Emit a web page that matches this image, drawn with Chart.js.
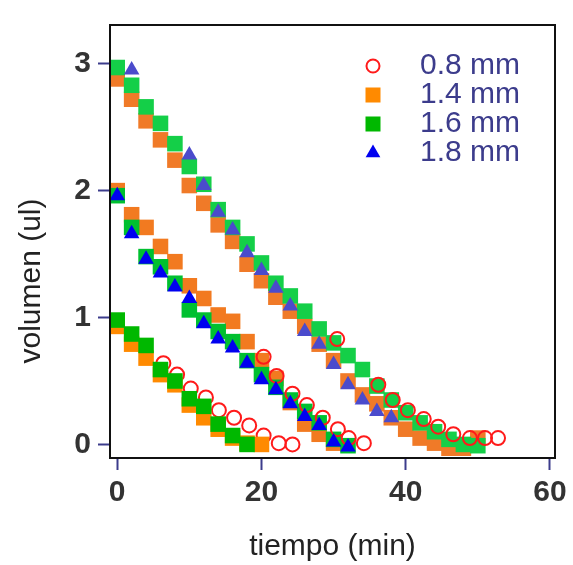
<!DOCTYPE html>
<html>
<head>
<meta charset="utf-8">
<script src="https://cdn.jsdelivr.net/npm/chart.js@4/dist/chart.umd.min.js"></script>
<style>
  html, body { margin: 0; padding: 0; background: #fff; }
</style>
</head>
<body>
<canvas id="chart" width="573" height="565"></canvas>
<script>
// tiempo (min) / volumen (ul) for each needle size, three starting volumes
const xTicks = [0, 20, 40, 60];
const yTicks = [0, 1, 2, 3];

// 3 ul runs
const tUp = [0, 2, 4, 6, 8, 10, 12, 14, 16, 18, 20, 22, 24, 26, 28, 30, 32, 34, 36, 38, 40, 42, 44, 46, 48, 50];
const v14Up = [2.88, 2.72, 2.55, 2.40, 2.24, 2.04, 1.90, 1.73, 1.60, 1.42, 1.29, 1.16, 1.05, 0.93, 0.79, 0.66, 0.50, 0.39, 0.32, 0.21, 0.12, 0.05, 0.01, -0.03, -0.03, 0.05];
const v16Up = [2.97, 2.83, 2.66, 2.53, 2.37, 2.19, 2.05, 1.85, 1.71, 1.58, 1.43, 1.27, 1.17, 1.05, 0.91, 0.80, 0.70, 0.59, 0.46, 0.35, 0.25, 0.17, 0.10, 0.04, 0.00, -0.01];
const tTriUp = [2, 10, 12, 14, 16, 18, 20, 22, 24, 26, 28, 30, 32, 34, 36, 38];
const v18Up = [2.95, 2.28, 2.04, 1.83, 1.69, 1.51, 1.37, 1.23, 1.09, 0.89, 0.79, 0.63, 0.47, 0.35, 0.26, 0.21];
const tCircUp = [30.5, 36.2, 38.2, 40.3, 42.5, 44.5, 46.6, 48.9, 51.0, 52.8];
const v08Up = [0.83, 0.47, 0.35, 0.27, 0.20, 0.14, 0.08, 0.05, 0.05, 0.05];

// 2 ul runs
const tMid = [0, 2, 4, 6, 8, 10, 12, 14, 16, 18, 20, 22, 24, 26, 28, 30, 32];
const v14Mid = [2.00, 1.81, 1.71, 1.56, 1.44, 1.25, 1.15, 1.02, 0.97, 0.81, 0.66, 0.52, 0.33, 0.16, 0.08, 0.01];
const v16Mid = [1.96, 1.71, 1.48, 1.40, 1.27, 1.06, 0.98, 0.89, 0.81, 0.66, 0.55, 0.45, 0.35, 0.26, 0.17, 0.04, -0.01];
const v18Mid = [1.96, 1.66, 1.46, 1.35, 1.24, 1.15, 0.95, 0.83, 0.76, 0.64, 0.51, 0.43, 0.32, 0.22, 0.15, 0.02, -0.02];
const tCircMid = [20.3, 22.1, 24.3, 26.3, 28.5, 30.6, 32.1, 34.2];
const v08Mid = [0.69, 0.54, 0.40, 0.31, 0.21, 0.12, 0.05, 0.01];

// 1 ul runs
const tLow = [0, 2, 4, 6, 8, 10, 12, 14, 16, 18, 20];
const v14Low = [0.93, 0.79, 0.68, 0.55, 0.47, 0.31, 0.21, 0.12, 0.05, 0.01, 0.00];
const v16Low = [0.98, 0.87, 0.78, 0.59, 0.50, 0.36, 0.30, 0.16, 0.07, 0.00];
const tCircLow = [6.4, 8.3, 10.2, 12.3, 14.1, 16.2, 18.3, 20.3, 22.4, 24.3];
const v08Low = [0.64, 0.55, 0.44, 0.37, 0.27, 0.21, 0.15, 0.07, 0.01, 0.00];

const legendLabels = ['0.8 mm', '1.4 mm', '1.6 mm', '1.8 mm'];

const FONT = "'Liberation Sans', Arial, Helvetica, sans-serif";

function pts(ts, vs) {
    return vs.map((v, i) => ({ x: ts[i], y: v }));
}

function circles(ts, vs, order) {
    return {
        data: pts(ts, vs), order: order,
        pointStyle: 'circle', pointRadius: 7, borderWidth: 2,
        borderColor: '#ff1a1a', backgroundColor: 'rgba(0,0,0,0)'
    };
}

function squares(ts, vs, color, order) {
    return {
        data: pts(ts, vs), order: order,
        pointStyle: 'rect', pointRadius: 11, borderWidth: 0,
        backgroundColor: color, borderColor: color
    };
}

function triangles(ts, vs, color, order) {
    return {
        data: pts(ts, vs), order: order,
        pointStyle: 'triangle', pointRadius: 9, borderWidth: 0,
        backgroundColor: color, borderColor: color
    };
}

const datasets = [
    circles(tCircUp, v08Up, 0),
    triangles(tTriUp, v18Up, '#4b4bcc', 1),
    triangles(tMid, v18Mid, '#0000f0', 1),
    circles(tCircMid, v08Mid, 2),
    squares(tUp, v16Up, '#14cf48', 3),
    squares(tMid, v16Mid, '#00c030', 3),
    squares(tLow, v16Low, '#00b800', 3),
    squares(tUp, v14Up, '#f07a28', 4),
    squares(tMid, v14Mid, '#f27a20', 4),
    squares(tLow, v14Low, '#ff8a00', 4),
    circles(tCircLow, v08Low, 5)
];

// legend markers: open circle, orange square, green square, blue triangle
const legendMarkers = [
    { style: 'circle', color: '#ff1a1a' },
    { style: 'rect', color: '#ff8a00' },
    { style: 'rect', color: '#00b800' },
    { style: 'triangle', color: '#0000f0' }
];

const framePlugin = {
    id: 'frame',
    afterDraw(chart) {
        const ctx = chart.ctx;
        const a = chart.chartArea;
        ctx.save();
        ctx.strokeStyle = '#111';
        ctx.lineWidth = 2;
        ctx.strokeRect(a.left, a.top, a.right - a.left, a.bottom - a.top);

        // y axis title, sits lower than the axis middle
        ctx.fillStyle = '#222';
        ctx.font = '30px ' + FONT;
        ctx.textAlign = 'center';
        ctx.textBaseline = 'middle';
        ctx.translate(32, 281);
        ctx.rotate(-Math.PI / 2);
        ctx.fillText('volumen (ul)', 0, 0);
        ctx.restore();

        // legend
        ctx.save();
        const mx = 373, tx = 420, y0 = 66, dy = 29;
        legendLabels.forEach((label, i) => {
            const y = y0 + i * dy;
            const m = legendMarkers[i];
            ctx.beginPath();
            if (m.style === 'circle') {
                ctx.arc(mx, y, 6.5, 0, Math.PI * 2);
                ctx.strokeStyle = m.color;
                ctx.lineWidth = 2;
                ctx.stroke();
            } else if (m.style === 'rect') {
                ctx.fillStyle = m.color;
                ctx.fillRect(mx - 7.5, y - 7.5, 15, 15);
            } else {
                const r = 8.5;
                ctx.moveTo(mx, y - r);
                ctx.lineTo(mx + r * 0.866, y + r / 2);
                ctx.lineTo(mx - r * 0.866, y + r / 2);
                ctx.closePath();
                ctx.fillStyle = m.color;
                ctx.fill();
            }
            ctx.fillStyle = '#3c3c8c';
            ctx.font = '30px ' + FONT;
            ctx.textAlign = 'left';
            ctx.textBaseline = 'middle';
            ctx.fillText(label, tx, y);
        });
        ctx.restore();
    }
};

const tickFont = { family: FONT, size: 30, weight: 'bold' };

new Chart(document.getElementById('chart'), {
    type: 'scatter',
    data: { datasets: datasets },
    options: {
        responsive: false,
        animation: false,
        devicePixelRatio: 1,
        layout: { padding: { top: 12, right: 18, left: 0, bottom: 0 } },
        plugins: { legend: { display: false }, tooltip: { enabled: false } },
        scales: {
            x: {
                type: 'linear', min: -1.0, max: 60.7,
                afterBuildTicks: (s) => { s.ticks = xTicks.map(v => ({ value: v })); },
                afterFit: (s) => { s.height = 107; },
                grid: { drawOnChartArea: false, drawTicks: true, tickLength: 12, tickWidth: 2, tickColor: '#3c3c8c' },
                border: { display: true, color: '#111', width: 2 },
                ticks: { font: tickFont, color: '#333', padding: 5, maxRotation: 0, autoSkip: false },
                title: { display: true, text: 'tiempo (min)', color: '#222', font: { family: FONT, size: 30 }, padding: { top: 0, bottom: 0 } }
            },
            y: {
                type: 'linear', min: -0.107, max: 3.305,
                afterBuildTicks: (s) => { s.ticks = yTicks.map(v => ({ value: v })); },
                afterFit: (s) => { s.width = 110; },
                grid: { drawOnChartArea: false, drawTicks: true, tickLength: 12, tickWidth: 2, tickColor: '#3c3c8c' },
                border: { display: true, color: '#111', width: 2 },
                ticks: { font: tickFont, color: '#333', padding: 7, autoSkip: false }
            }
        }
    },
    plugins: [framePlugin]
});
</script>
</body>
</html>
